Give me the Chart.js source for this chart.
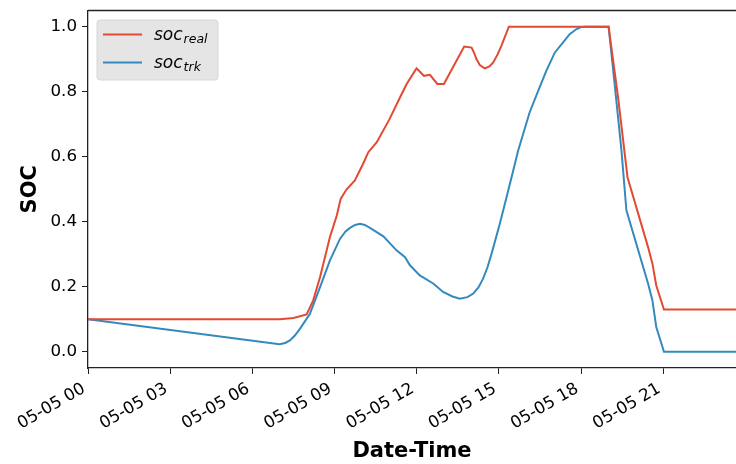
<!DOCTYPE html>
<html>
<head>
<meta charset="utf-8">
<script src="https://cdn.jsdelivr.net/npm/chart.js@4.4.1/dist/chart.umd.min.js"></script>
<style>
  html, body { margin: 0; padding: 0; background: #fff; }
  #wrap { width: 736px; height: 464px; position: relative; }
</style>
</head>
<body>
<div id="wrap"><canvas id="soc-chart"></canvas></div>
<script>
// hours after 05-05 00:00 and SOC values
const realHours = [0, 7.0, 7.5, 7.98, 8.22, 8.47, 8.83, 9.08, 9.22, 9.44, 9.74, 10.05, 10.23, 10.54, 11.0, 11.39, 11.63, 11.99,
    12.26, 12.48, 12.75, 12.99, 13.35, 13.73, 14.0, 14.1, 14.18, 14.3, 14.48, 14.65, 14.79, 14.95, 15.09, 15.36,
    19.0, 19.35, 19.69, 20.44, 20.6, 20.74, 21.02, 23.65];
const realSoc = [0.1, 0.1, 0.104, 0.115, 0.158, 0.23, 0.353, 0.419, 0.47, 0.5, 0.527, 0.58, 0.614, 0.645, 0.715, 0.783, 0.824, 0.872,
    0.849, 0.852, 0.824, 0.824, 0.88, 0.939, 0.936, 0.918, 0.9, 0.882, 0.872, 0.878, 0.89, 0.915, 0.942, 1.0,
    1.0, 0.78, 0.537, 0.322, 0.271, 0.204, 0.13, 0.13];

const trkHours = [0, 6.99, 7.2, 7.37, 7.55, 7.74, 8.1, 8.47, 8.83, 9.2, 9.4, 9.56, 9.75, 9.93, 10.1, 10.29, 10.78, 11.26, 11.57, 11.75,
    12.11, 12.6, 12.96, 13.3, 13.57, 13.85, 14.06, 14.25, 14.42, 14.58, 14.73, 15.03, 15.4, 15.7, 16.12, 16.43, 16.73,
    17.04, 17.34, 17.58, 17.83, 18.0, 18.19,
    19.0, 19.22, 19.47, 19.65, 20.44, 20.6, 20.74, 21.02, 23.65];
const trkSoc = [0.1, 0.023, 0.027, 0.035, 0.05, 0.071, 0.117, 0.199, 0.281, 0.348, 0.37, 0.381, 0.39, 0.394, 0.39, 0.381, 0.355, 0.312, 0.291, 0.266,
    0.235, 0.21, 0.184, 0.17, 0.163, 0.168, 0.179, 0.198, 0.225, 0.26, 0.302, 0.394, 0.517, 0.619, 0.737, 0.803, 0.865,
    0.921, 0.952, 0.977, 0.993, 0.999, 1.0,
    1.0, 0.824, 0.619, 0.435, 0.21, 0.158, 0.076, 0.0, 0.0];

const seriesBase = ['soc', 'soc'];
const seriesSub = ['real', 'trk'];
const seriesColors = ['#E24A33', '#348ABD'];

const xTicks = [0, 3, 6, 9, 12, 15, 18, 21];
const yTicks = [0.0, 0.2, 0.4, 0.6, 0.8, 1.0];

const toPoints = (hours, vals) => hours.map((h, i) => ({ x: h, y: vals[i] }));

const FONT = "'DejaVu Sans', sans-serif";

// top spine (matplotlib keeps a frame around the axes)
const topSpine = {
    id: 'topSpine',
    afterDraw(chart) {
        const { ctx, chartArea } = chart;
        ctx.save();
        ctx.strokeStyle = '#222';
        ctx.lineWidth = 1.3;
        ctx.beginPath();
        ctx.moveTo(chartArea.left, chartArea.top);
        ctx.lineTo(chartArea.right, chartArea.top);
        ctx.stroke();
        ctx.restore();
    }
};

// legend with italic labels and subscripts
const mathLegend = {
    id: 'mathLegend',
    afterDraw(chart) {
        const ctx = chart.ctx;
        const x = 97, y = 20, w = 121, h = 60;
        ctx.save();
        ctx.beginPath();
        ctx.roundRect(x, y, w, h, 3);
        ctx.fillStyle = '#E5E5E5';
        ctx.fill();
        ctx.strokeStyle = '#D6D6D6';
        ctx.lineWidth = 1;
        ctx.stroke();

        chart.data.datasets.forEach((ds, i) => {
            const cy = y + 14.5 + i * 28;
            ctx.strokeStyle = ds.borderColor;
            ctx.lineWidth = 2;
            ctx.beginPath();
            ctx.moveTo(x + 6, cy);
            ctx.lineTo(x + 45, cy);
            ctx.stroke();

            ctx.fillStyle = '#000';
            ctx.textBaseline = 'alphabetic';
            ctx.textAlign = 'left';
            ctx.font = "italic 17px " + FONT;
            const tx = x + 57;
            ctx.fillText(seriesBase[i], tx, cy + 5);
            const bw = ctx.measureText(seriesBase[i]).width;
            ctx.font = "italic 12.5px " + FONT;
            ctx.fillText(seriesSub[i], tx + bw + 1, cy + 8);
        });
        ctx.restore();
    }
};

new Chart(document.getElementById('soc-chart'), {
    type: 'line',
    data: {
        datasets: [
            {
                label: 'soc_real',
                data: toPoints(realHours, realSoc),
                borderColor: seriesColors[0],
                borderWidth: 2,
                pointRadius: 0,
                tension: 0,
                fill: false
            },
            {
                label: 'soc_trk',
                data: toPoints(trkHours, trkSoc),
                borderColor: seriesColors[1],
                borderWidth: 2,
                pointRadius: 0,
                tension: 0,
                fill: false
            }
        ]
    },
    options: {
        responsive: true,
        maintainAspectRatio: false,
        animation: false,
        layout: { padding: { top: 10.5, right: 0, bottom: 0, left: 0 } },
        plugins: {
            legend: { display: false },
            tooltip: { enabled: false }
        },
        scales: {
            x: {
                type: 'linear',
                min: 0,
                max: 23.65,
                afterBuildTicks: scale => { scale.ticks = xTicks.map(v => ({ value: v })); },
                afterFit: scale => { scale.height = 96; },
                ticks: {
                    autoSkip: false,
                    minRotation: 30,
                    maxRotation: 30,
                    padding: 5,
                    labelOffset: -4,
                    color: '#000',
                    font: { family: FONT, size: 16.7 },
                    callback: v => '05-05 ' + String(v).padStart(2, '0')
                },
                grid: {
                    drawOnChartArea: false,
                    drawTicks: true,
                    tickLength: 6,
                    color: '#222'
                },
                border: { display: true, color: '#222', width: 1.3 },
                title: {
                    display: true,
                    text: 'Date-Time',
                    color: '#000',
                    font: { family: FONT, size: 21, weight: 'bold' },
                    padding: { top: 0, bottom: 0 }
                }
            },
            y: {
                type: 'linear',
                min: -0.05,
                max: 1.05,
                afterBuildTicks: scale => { scale.ticks = yTicks.map(v => ({ value: v })); },
                afterFit: scale => {
                    scale.width = 88;
                    scale.paddingTop = 0;
                    scale.paddingBottom = 0;
                },
                ticks: {
                    padding: 5,
                    color: '#000',
                    font: { family: FONT, size: 16.7 },
                    callback: v => v.toFixed(1)
                },
                grid: {
                    drawOnChartArea: false,
                    drawTicks: true,
                    tickLength: 6,
                    color: '#222'
                },
                border: { display: true, color: '#222', width: 1.3 },
                title: {
                    display: true,
                    text: 'SOC',
                    color: '#000',
                    font: { family: FONT, size: 21, weight: 'bold' },
                    padding: { top: 18, bottom: 0 }
                }
            }
        }
    },
    plugins: [topSpine, mathLegend]
});
</script>
</body>
</html>
